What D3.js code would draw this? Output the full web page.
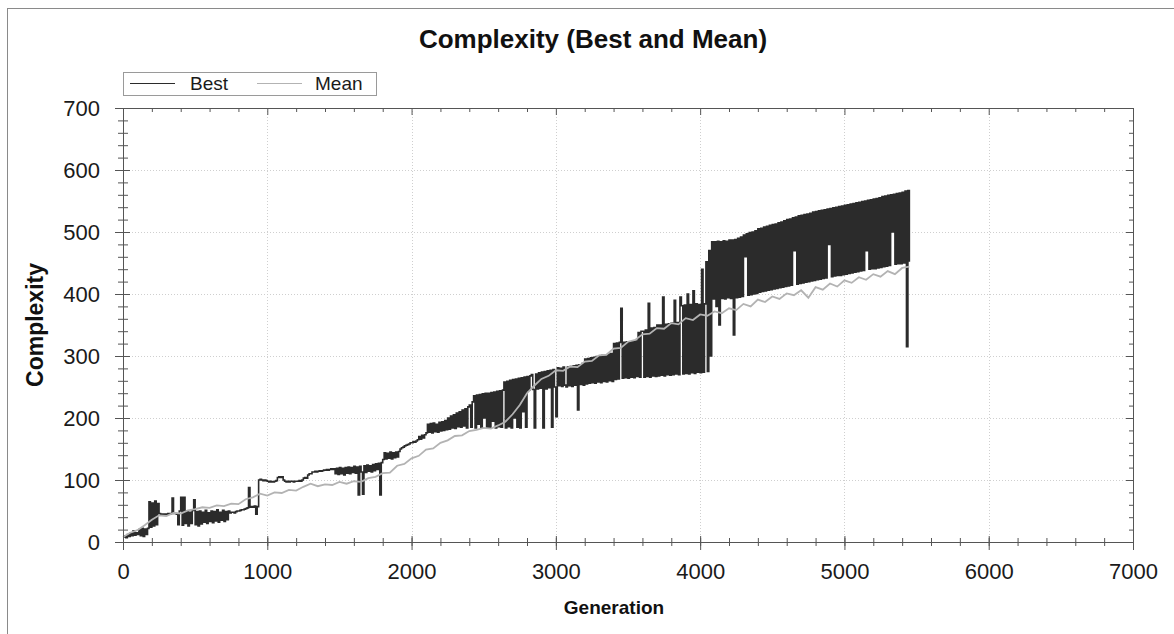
<!DOCTYPE html>
<html>
<head>
<meta charset="utf-8">
<script src="https://cdn.jsdelivr.net/npm/d3@7"></script>
<style>
  body { margin: 0; background: #fff; }
  svg { font-family: Arial, "Liberation Sans", sans-serif; }
</style>
</head>
<body>
<svg id="chart" width="1174" height="634"></svg>
<script>
// best complexity, one value every 10 generations (0 .. 5450)
const bestStep = 10;
const best = [
  8,10,7,12,9,14,10,18,11,15,12,20,10,22,9,21,12,22,65,24,
  63,26,66,28,62,46,45,45,44,45,45,46,45,46,71,46,46,45,28,50,
  72,27,72,30,50,26,48,30,51,68,28,49,26,50,29,48,32,51,30,47,
  33,50,31,49,34,52,32,48,35,51,33,49,36,50,47,48,48,47,49,50,
  50,51,52,52,53,54,55,88,56,57,56,58,45,57,100,101,100,99,100,99,
  98,97,98,97,97,98,99,104,105,104,105,100,98,97,98,97,98,98,97,98,
  98,98,99,98,100,103,104,103,108,110,110,113,113,114,113,114,115,114,115,116,
  116,117,116,117,118,117,118,110,119,109,120,110,119,108,120,111,121,110,120,112,
  122,111,121,76,122,113,77,123,112,124,114,123,113,125,115,126,117,127,76,128,
  133,144,134,143,135,145,134,144,136,145,137,146,150,152,153,155,156,157,158,160,
  160,162,161,163,165,170,166,172,168,173,176,190,177,191,176,192,178,190,177,193,
  179,194,180,196,181,200,182,203,184,205,183,208,186,210,185,213,187,215,184,218,
  221,185,226,236,184,237,190,238,184,239,200,240,185,240,184,241,195,242,184,243,
  186,244,185,245,258,184,259,186,261,184,262,200,263,185,264,184,265,210,266,185,
  267,245,268,270,246,184,271,247,273,248,274,184,275,247,276,249,277,185,278,250,
  202,281,252,280,251,282,253,250,282,252,283,251,284,253,285,213,286,254,288,253,
  295,255,296,256,297,257,298,256,299,258,300,257,301,259,302,258,303,260,304,259,
  320,262,321,263,322,377,264,322,265,323,264,323,266,324,265,324,267,338,266,340,
  340,266,342,267,385,266,345,268,346,267,350,268,350,269,395,268,351,270,352,269,
  353,270,390,271,354,270,395,381,271,382,272,400,271,383,273,405,272,384,274,383,
  273,440,274,384,452,275,470,300,484,392,484,380,485,350,484,393,486,392,485,394,
  487,393,487,334,488,394,490,395,492,396,495,460,497,398,499,399,500,400,502,401,
  505,403,506,404,508,405,509,406,511,407,512,408,513,409,515,410,516,411,518,412,
  520,413,521,414,523,470,524,416,526,417,527,418,528,419,529,420,530,421,532,422,
  533,423,534,424,535,425,536,426,537,480,538,428,539,429,540,430,541,430,542,431,
  543,432,544,433,545,434,546,435,547,436,548,437,549,438,550,470,551,440,552,441,
  553,441,554,442,555,443,557,444,558,445,559,446,560,500,561,448,562,449,563,449,
  564,450,566,315,567,452
];

// mean complexity, one value every 50 generations (0 .. 5450)
const meanStep = 50;
const mean = [
  8,15,19,27,36,43,42,47,46,51,53,56,55,59,58,62,61,69,72,78,
  75,80,79,84,83,89,94,90,93,92,97,94,98,97,103,105,111,112,123,126,
  135,139,149,151,160,164,171,172,179,181,184,183,188,194,206,221,240,252,263,268,
  277,276,283,282,291,292,301,302,312,313,323,326,335,336,345,344,353,351,361,358,
  367,365,372,369,377,374,384,380,391,387,396,392,401,398,406,394,411,407,417,412,
  422,418,427,423,432,428,437,432,442,444
];

const xTicks = [0, 1000, 2000, 3000, 4000, 5000, 6000, 7000];
const yTicks = [0, 100, 200, 300, 400, 500, 600, 700];
const xMinor = d3.range(0, 7001, 200);
const yMinor = d3.range(0, 701, 20);

const svg = d3.select('#chart');
const x = d3.scaleLinear().domain([0, 7000]).range([123, 1133]);
const y = d3.scaleLinear().domain([0, 700]).range([542, 108]);

// outer frame
svg.append('rect')
  .attr('x', 7.5).attr('y', 8.5)
  .attr('width', 1300).attr('height', 800)
  .attr('fill', 'none').attr('stroke', '#8a8a8a');

// grid
const grid = svg.append('g').attr('stroke', '#cfcfcf').attr('stroke-dasharray', '1,2');
grid.selectAll('.gx').data(xTicks.slice(1, -1)).enter().append('line')
  .attr('x1', d => Math.round(x(d)) + 0.5).attr('x2', d => Math.round(x(d)) + 0.5)
  .attr('y1', y(700)).attr('y2', y(0));
grid.selectAll('.gy').data(yTicks.slice(1, -1)).enter().append('line')
  .attr('y1', d => Math.round(y(d)) + 0.5).attr('y2', d => Math.round(y(d)) + 0.5)
  .attr('x1', x(0)).attr('x2', x(7000));

// series: best first, mean drawn over it
const bestLine = d3.line()
  .curve(d3.curveStepAfter)
  .x((d, i) => x(i * bestStep))
  .y(d => y(d));
svg.append('path').datum(best)
  .attr('d', bestLine)
  .attr('fill', 'none').attr('stroke', '#2b2b2b').attr('stroke-width', 1.6);

const meanLine = d3.line()
  .x((d, i) => x(i * meanStep))
  .y(d => y(d));
svg.append('path').datum(mean)
  .attr('d', meanLine)
  .attr('fill', 'none').attr('stroke', '#b3b3b3').attr('stroke-width', 1.8);

// axes
function styleAxis(g) {
  g.selectAll('path.domain').attr('stroke', '#555');
  g.selectAll('line').attr('stroke', '#555');
  g.selectAll('text').attr('fill', '#1a1a1a').attr('font-size', 22);
}

svg.append('g').attr('transform', 'translate(0,542)')
  .call(d3.axisBottom(x).tickValues(xMinor).tickSize(4).tickSizeOuter(0).tickFormat(''))
  .call(g => g.selectAll('.tick line').attr('y1', -4))
  .call(styleAxis);
svg.append('g').attr('transform', 'translate(0,542)')
  .call(d3.axisBottom(x).tickValues(xTicks).tickSize(8).tickSizeOuter(0).tickPadding(13)
    .tickFormat(d3.format('d')))
  .call(g => g.selectAll('.tick line').attr('y1', -6))
  .call(styleAxis);

svg.append('g').attr('transform', 'translate(123,0)')
  .call(d3.axisLeft(y).tickValues(yMinor).tickSize(5).tickSizeOuter(0).tickFormat(''))
  .call(g => g.selectAll('.tick line').attr('x1', 5))
  .call(styleAxis);
svg.append('g').attr('transform', 'translate(123,0)')
  .call(d3.axisLeft(y).tickValues(yTicks).tickSize(8).tickSizeOuter(0).tickPadding(15)
    .tickFormat(d3.format('d')))
  .call(g => g.selectAll('.tick line').attr('x1', 7))
  .call(styleAxis);

svg.append('g').attr('transform', 'translate(0,108)')
  .call(d3.axisTop(x).tickValues(xMinor).tickSize(-4).tickSizeOuter(0).tickFormat(''))
  .call(g => g.selectAll('.tick line').filter(d => d % 1000 === 0).attr('y2', 7))
  .call(styleAxis);
svg.append('g').attr('transform', 'translate(1133,0)')
  .call(d3.axisRight(y).tickValues(yMinor).tickSize(-4).tickSizeOuter(0).tickFormat(''))
  .call(g => g.selectAll('.tick line').filter(d => d % 100 === 0).attr('x2', -7))
  .call(styleAxis);

// titles
svg.append('text')
  .attr('x', 593).attr('y', 48)
  .attr('text-anchor', 'middle')
  .attr('font-size', 26).attr('font-weight', 'bold').attr('fill', '#111')
  .text('Complexity (Best and Mean)');

svg.append('text')
  .attr('transform', 'translate(43,325) rotate(-90)')
  .attr('text-anchor', 'middle')
  .attr('font-size', 23).attr('font-weight', 'bold').attr('fill', '#111')
  .text('Complexity');

svg.append('text')
  .attr('x', 614).attr('y', 614)
  .attr('text-anchor', 'middle')
  .attr('font-size', 19).attr('font-weight', 'bold').attr('fill', '#111')
  .text('Generation');

// legend
const legendItems = [
  { name: 'Best', color: '#2b2b2b' },
  { name: 'Mean', color: '#b3b3b3' }
];
const legend = svg.append('g');
legend.append('rect')
  .attr('x', 123.5).attr('y', 72.5).attr('width', 253).attr('height', 23)
  .attr('fill', '#fff').attr('stroke', '#9a9a9a');
const li = legend.selectAll('.li').data(legendItems).enter().append('g')
  .attr('transform', (d, i) => `translate(${130 + i * 127},0)`);
li.append('line')
  .attr('x1', 0).attr('x2', 45).attr('y1', 83.5).attr('y2', 83.5)
  .attr('stroke', d => d.color).attr('stroke-width', 1.2);
li.append('text')
  .attr('x', (d, i) => i === 0 ? 60 : 58).attr('y', 90)
  .attr('font-size', 19).attr('fill', '#1a1a1a')
  .text(d => d.name);
</script>
</body>
</html>
